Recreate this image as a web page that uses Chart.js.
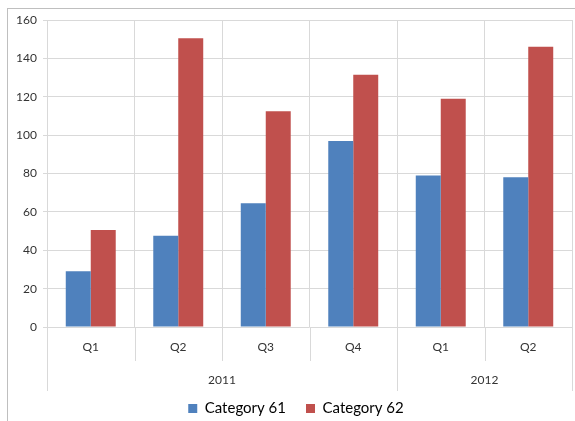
<!DOCTYPE html>
<html><head><meta charset="utf-8">
<script src="https://cdn.jsdelivr.net/npm/chart.js@4/dist/chart.umd.min.js"></script>
<style>html,body{margin:0;padding:0;background:#fff;}#wrap{position:relative;width:575px;height:421px;}</style>
</head><body><div id="wrap"><canvas id="c" width="575" height="421"></canvas></div>
<script>
const quarters = ['Q1','Q2','Q3','Q4','Q1','Q2'];
const years = ['2011','2012'];
const yearSpans = [4, 2];
const seriesNames = ['Category 61','Category 62'];
const cat61 = [29, 47.5, 64.5, 97, 79, 78];
const cat62 = [50.5, 150.5, 112.5, 131.5, 119, 146];
const yMin = 0, yMax = 160, yStep = 20;

const FONT = 'Lato, "Liberation Sans", sans-serif';
const GRID = '#d9d9d9';
const TXT = '#333';

const groupAxis = {
  id: 'groupAxis',
  afterLayout(chart) {
    if (chart.legend) { chart.legend.left += 10; chart.legend.right += 10; }
  },
  beforeDraw(chart) {
    const ctx = chart.ctx;
    ctx.save();
    ctx.strokeStyle = '#bfbfbf';
    ctx.lineWidth = 1;
    ctx.strokeRect(7.5, 8.5, 700, 600);
    ctx.restore();
  },
  afterDraw(chart) {
    const x = chart.scales.x, ctx = chart.ctx;
    const bottom = chart.chartArea.bottom;
    const n = quarters.length;
    const w = (x.getPixelForValue(1) - x.getPixelForValue(0));
    const edge = i => x.getPixelForValue(i) - w / 2;
    ctx.save();
    ctx.strokeStyle = GRID;
    ctx.lineWidth = 1;
    const bounds = new Set([0]);
    let acc = 0;
    yearSpans.forEach(s => { acc += s; bounds.add(acc); });
    for (let i = 0; i <= n; i++) {
      const px = Math.round(edge(i)) + 0.5;
      const len = bounds.has(i) ? 64 : 34;
      ctx.beginPath();
      ctx.moveTo(px, bottom);
      ctx.lineTo(px, bottom + len);
      ctx.stroke();
    }
    ctx.fillStyle = TXT;
    ctx.font = '12px ' + FONT;
    ctx.textAlign = 'center';
    ctx.textBaseline = 'middle';
    let start = 0;
    years.forEach((y, k) => {
      const end = start + yearSpans[k];
      ctx.fillText(y, (edge(start) + edge(end)) / 2, bottom + 53);
      start = end;
    });
    ctx.restore();
  }
};

new Chart(document.getElementById('c'), {
  type: 'bar',
  data: {
    labels: quarters,
    datasets: [
      { label: seriesNames[0], data: cat61, backgroundColor: '#4F81BD' },
      { label: seriesNames[1], data: cat62, backgroundColor: '#C0504D' }
    ]
  },
  options: {
    responsive: false,
    animation: false,
    layout: { padding: { top: 20, right: 3, left: 0, bottom: -5 } },
    datasets: { bar: { categoryPercentage: 0.571, barPercentage: 1 } },
    plugins: {
      legend: {
        position: 'bottom',
        labels: { font: { family: FONT, size: 15 }, color: '#000', boxWidth: 9, boxHeight: 9, padding: 20 }
      },
      tooltip: { enabled: false }
    },
    scales: {
      x: {
        grid: { color: GRID, offset: true, drawTicks: false },
        border: { display: false },
        ticks: { font: { family: FONT, size: 12 }, color: TXT, padding: 13 },
        afterFit(s) { s.height = 54; }
      },
      y: {
        min: yMin, max: yMax,
        grid: { color: GRID, tickLength: 4 },
        border: { display: false },
        ticks: { stepSize: yStep, font: { family: FONT, size: 12 }, color: TXT, padding: 6 },
        afterFit(s) { s.width = 47; }
      }
    }
  },
  plugins: [groupAxis]
});
</script></body></html>
